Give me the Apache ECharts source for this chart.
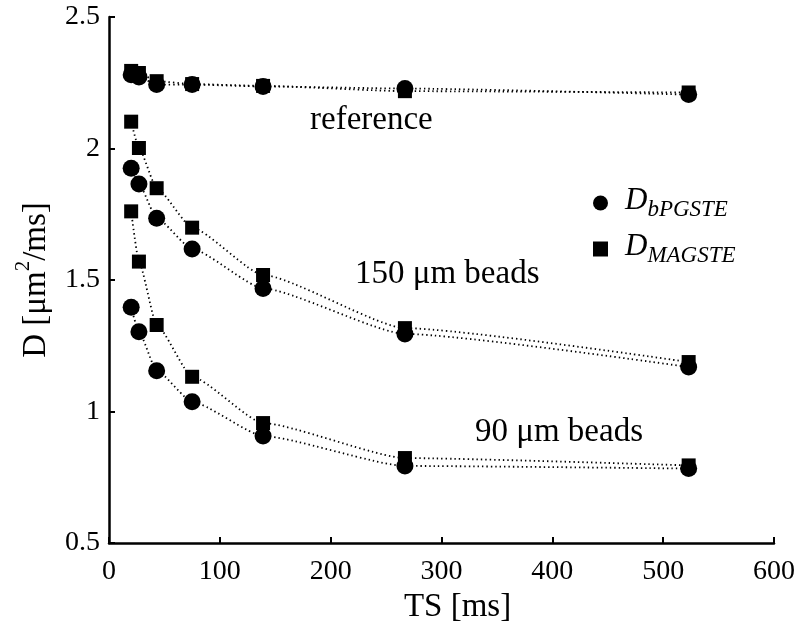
<!DOCTYPE html>
<html>
<head>
<meta charset="utf-8">
<script src="https://cdn.jsdelivr.net/npm/echarts@6/dist/echarts.min.js"></script>
<style>html,body{margin:0;padding:0;background:#fff;}#chart{width:800px;height:640px;}</style>
</head>
<body>
<div id="chart"></div>
<script>
// Diffusion time TS [ms]
const ts = [20, 27, 43, 75, 139, 267, 523];
// reference
const refB = [2.280, 2.272, 2.243, 2.243, 2.236, 2.228, 2.205];
const refM = [2.295, 2.287, 2.256, 2.245, 2.238, 2.218, 2.213];
// 150 um beads
const b150B = [1.925, 1.865, 1.735, 1.618, 1.468, 1.295, 1.169];
const b150M = [2.102, 2.002, 1.849, 1.699, 1.519, 1.317, 1.188];
// 90 um beads
const b90B = [1.396, 1.303, 1.155, 1.037, 0.907, 0.793, 0.783];
const b90M = [1.761, 1.570, 1.329, 1.132, 0.956, 0.823, 0.795];

const xTicks = [0, 100, 200, 300, 400, 500, 600];
const yTicks = [0.5, 1, 1.5, 2, 2.5];

const FONT = '"Liberation Serif", "DejaVu Serif", serif';
const pair = (ys) => ts.map((t, i) => [t, ys[i]]);

function mk(name, ys, symbol, size) {
  return {
    name: name, type: 'line', data: pair(ys),
    symbol: symbol, symbolSize: size, smooth: 0.18, smoothMonotone: 'x',
    itemStyle: { color: '#000' },
    lineStyle: { color: '#000', width: 1.8, type: [1.4, 3] },
    emphasis: { disabled: true }
  };
}

const chart = echarts.init(document.getElementById('chart'), null, { renderer: 'canvas' });
chart.setOption({
  animation: false,
  backgroundColor: '#fff',
  grid: { left: 109, right: 26, top: 17, bottom: 97 },
  xAxis: {
    type: 'value', min: xTicks[0], max: xTicks[xTicks.length - 1], interval: 100,
    name: 'TS [ms]', nameLocation: 'middle', nameGap: 46,
    nameTextStyle: { fontFamily: FONT, fontSize: 33, color: '#000', padding: [0, 0, 0, 32] },
    axisLine: { lineStyle: { color: '#000', width: 2.5 } },
    axisTick: { inside: true, length: 6, lineStyle: { color: '#000', width: 2 } },
    axisLabel: { fontFamily: FONT, fontSize: 28, color: '#000', margin: 15 },
    splitLine: { show: false }
  },
  yAxis: {
    type: 'value', min: yTicks[0], max: yTicks[yTicks.length - 1], interval: 0.5,
    name: '{t|D [μm}{sup|2}{t|/ms]}', nameLocation: 'middle', nameGap: 56,
    nameTextStyle: {
      fontFamily: FONT, color: '#000',
      rich: {
        t: { fontFamily: FONT, fontSize: 33, color: '#000', lineHeight: 42, verticalAlign: 'bottom' },
        sup: { fontFamily: FONT, fontSize: 21, color: '#000', lineHeight: 42, verticalAlign: 'top', padding: [2, 0, 0, 0] }
      }
    },
    axisLine: { lineStyle: { color: '#000', width: 2.5 } },
    axisTick: { inside: true, length: 6, lineStyle: { color: '#000', width: 2 } },
    axisLabel: { fontFamily: FONT, fontSize: 28, color: '#000', margin: 9,
      formatter: v => String(v) },
    splitLine: { show: false }
  },
  legend: {
    orient: 'vertical', left: 588, top: 180, itemGap: 10,
    itemWidth: 15, itemHeight: 15,
    data: [
      { name: 'bPGSTE', icon: 'circle' },
      { name: 'MAGSTE', icon: 'rect', itemStyle: { color: '#000' } }
    ],
    formatter: n => '{d|D}{s|' + n + '}',
    textStyle: {
      color: '#000',
      rich: {
        d: { fontFamily: FONT, fontStyle: 'italic', fontSize: 31, color: '#000', lineHeight: 36, verticalAlign: 'top', padding: [0, 0, 0, 12] },
        s: { fontFamily: FONT, fontStyle: 'italic', fontSize: 23, color: '#000', lineHeight: 36, verticalAlign: 'bottom' }
      }
    },
    itemStyle: { color: '#000' }
  },
  graphic: [
    { type: 'text', left: 310, top: 104, style: { text: 'reference', font: '33px ' + FONT, fill: '#000' } },
    { type: 'text', left: 355, top: 258, style: { text: '150 μm beads', font: '33px ' + FONT, fill: '#000' } },
    { type: 'text', left: 475, top: 416, style: { text: '90 μm beads', font: '33px ' + FONT, fill: '#000' } }
  ],
  series: [
    mk('MAGSTE', refM, 'rect', 14),
    mk('MAGSTE', b150M, 'rect', 14),
    mk('MAGSTE', b90M, 'rect', 14),
    mk('bPGSTE', refB, 'circle', 17),
    mk('bPGSTE', b150B, 'circle', 17),
    mk('bPGSTE', b90B, 'circle', 17)
  ]
});
</script>
</body>
</html>
